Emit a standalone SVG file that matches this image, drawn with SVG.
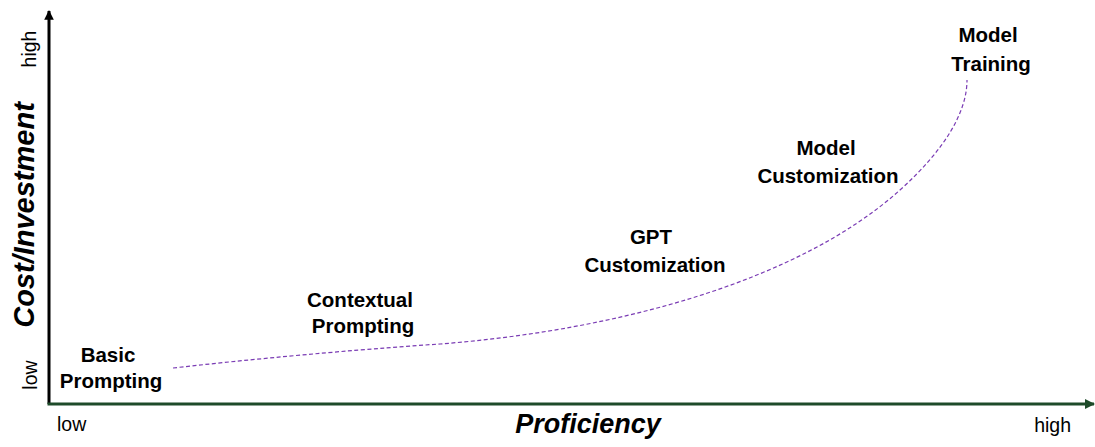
<svg xmlns="http://www.w3.org/2000/svg" width="1095" height="447" viewBox="0 0 1095 447">
  <style>
    .stage { font-family: "Liberation Sans", Arial, sans-serif; font-weight: bold; font-size: 20.5px; fill: #000; text-anchor: middle; }
    .tick { font-family: "Liberation Sans", Arial, sans-serif; font-size: 19.5px; fill: #000; }
    .axis-title { font-family: "Liberation Sans", Arial, sans-serif; font-weight: bold; font-style: italic; fill: #000; text-anchor: middle; }
    .curve { fill: none; stroke: #7a3cb4; stroke-width: 1.2; stroke-dasharray: 4 2.5; }
  </style>
  <defs>
    <marker id="arrow-black" viewBox="0 0 10 10" refX="9" refY="5" markerWidth="3.2" markerHeight="3.2" orient="auto" markerUnits="strokeWidth">
      <path d="M0,0 L10,5 L0,10 z" fill="#000"/>
    </marker>
    <marker id="arrow-green" viewBox="0 0 10 10" refX="9" refY="5" markerWidth="3.2" markerHeight="3.2" orient="auto" markerUnits="strokeWidth">
      <path d="M0,0 L10,5 L0,10 z" fill="#1e4b2a"/>
    </marker>
  </defs>

  <!-- axes -->
  <g id="axes">
    <line x1="49" y1="404" x2="49" y2="11" stroke="#000" stroke-width="3" marker-end="url(#arrow-black)"/>
    <line x1="47.5" y1="404" x2="1094" y2="404" stroke="#1e4b2a" stroke-width="3.2" marker-end="url(#arrow-green)"/>
    <text class="tick" transform="translate(36,49) rotate(-90)" text-anchor="middle">high</text>
    <text class="tick" transform="translate(37,375) rotate(-90)" text-anchor="middle">low</text>
    <text class="tick" x="57" y="431">low</text>
    <text class="tick" x="1071" y="432" text-anchor="end">high</text>
    <text class="axis-title" x="588" y="433" font-size="27">Proficiency</text>
    <text class="axis-title" font-size="29" transform="translate(34,215) rotate(-90)">Cost/Investment</text>
  </g>

  <!-- growth curve -->
  <g id="connectors">
    <path class="curve" d="M173,368 C280,356 380,348 440,344 C620,330 800,280 900,190 C945,149.5 967,112 967,80"/>
  </g>

  <!-- stages -->
  <g id="basic-prompting">
    <text class="stage" x="108" y="362">Basic</text>
    <text class="stage" x="111" y="388">Prompting</text>
  </g>
  <g id="contextual-prompting">
    <text class="stage" x="360" y="307">Contextual</text>
    <text class="stage" x="363" y="333">Prompting</text>
  </g>
  <g id="gpt-customization">
    <text class="stage" x="651" y="244">GPT</text>
    <text class="stage" x="655" y="272">Customization</text>
  </g>
  <g id="model-customization">
    <text class="stage" x="826" y="155">Model</text>
    <text class="stage" x="828" y="183">Customization</text>
  </g>
  <g id="model-training">
    <text class="stage" x="988" y="42">Model</text>
    <text class="stage" x="991" y="71">Training</text>
  </g>
</svg>
